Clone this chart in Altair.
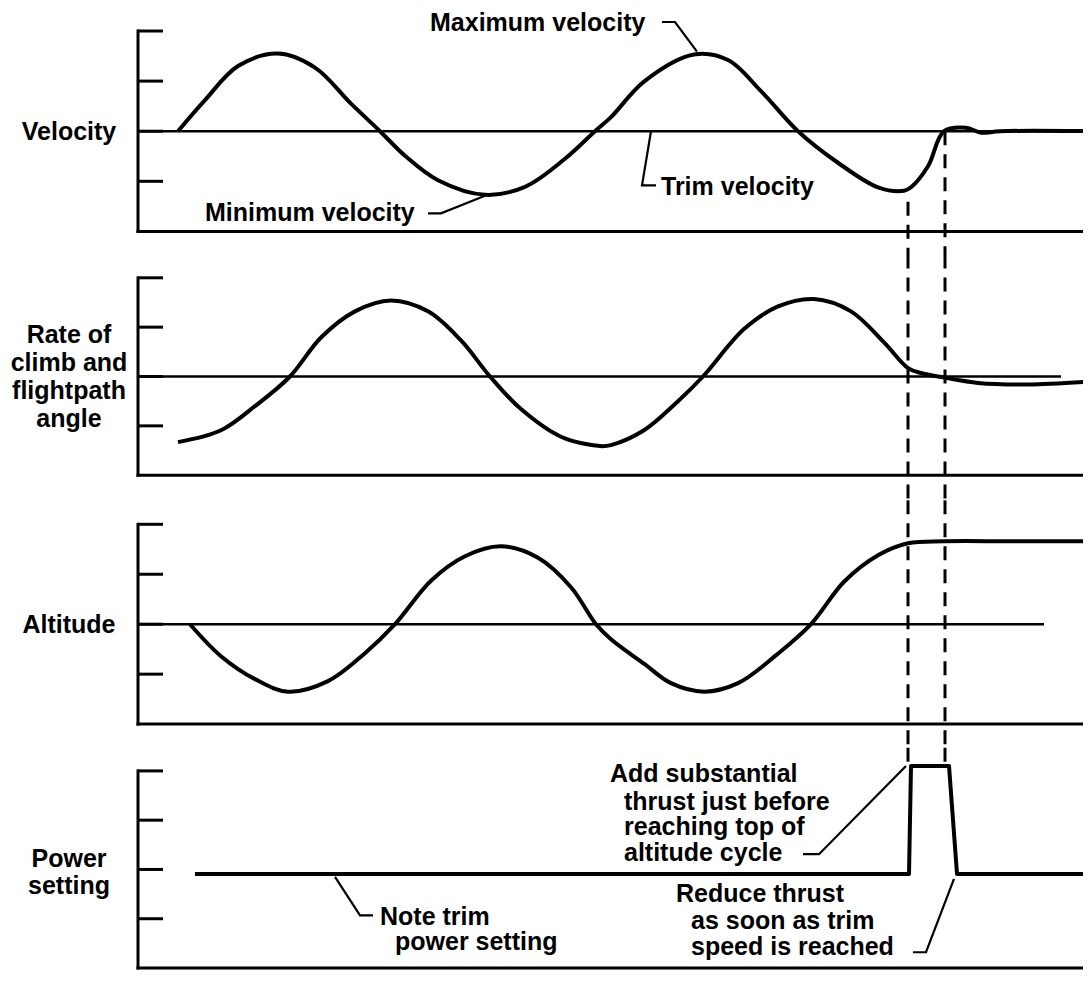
import altair as alt
import pandas as pd

# ---------------- data (time in arbitrary units, values in panel units) -------------
T_END = 95.3          # right end of the traces
X_MAX = 94.5          # visible end of the time axis
TICKS = [2, 1, 0, -1]
TICK_LEN = 2.5

vel_t = [4.0, 6.7, 10.0, 14.0, 17.7, 21.3, 24.2, 26.7, 30.0, 34.7, 38.7, 42.7, 45.7,
         47.3, 50.6, 55.6, 59.0, 62.3, 66.0, 70.0, 74.0, 76.6, 77.3, 79.0, 80.6,
         82.8, 84.3, 86.2, 95.3]
vel_v = [0, 0.62, 1.30, 1.55, 1.27, 0.55, 0, -0.49, -0.98, -1.27, -1.11, -0.55, 0,
         0.28, 0.99, 1.53, 1.42, 0.80, 0, -0.63, -1.12, -1.19, -1.12, -0.70, 0,
         0.07, -0.03, 0, 0]

roc_t = [4.0, 8.3, 11.7, 15.2, 18.3, 21.7, 25.3, 29.0, 32.3, 35.2, 38.3, 42.3, 46.2,
         47.3, 50.6, 54.0, 56.5, 60.6, 64.0, 67.6, 71.3, 74.6, 77.0, 78.3, 80.6,
         84.0, 89.0, 95.3]
roc_v = [-1.33, -1.09, -0.60, 0, 0.79, 1.32, 1.54, 1.32, 0.73, 0, -0.66, -1.22, -1.41,
         -1.39, -1.09, -0.50, 0, 0.96, 1.42, 1.57, 1.32, 0.69, 0.17, 0.07, -0.02,
         -0.13, -0.16, -0.10]

alt_t = [5.2, 8.3, 11.7, 15.0, 19.0, 22.7, 25.7, 29.3, 32.7, 36.3, 40.0, 43.3, 45.8,
         47.3, 50.6, 53.3, 56.6, 60.0, 64.0, 67.3, 70.6, 74.0, 77.0, 80.6, 87.3, 95.3]
alt_v = [0, -0.64, -1.10, -1.35, -1.14, -0.58, 0, 0.87, 1.36, 1.56, 1.33, 0.74, 0,
         -0.30, -0.79, -1.18, -1.35, -1.18, -0.59, 0, 0.85, 1.38, 1.62, 1.66, 1.66, 1.66]

pwr_t = [5.7, 77.1, 77.3, 81.1, 81.9, 95.3]
pwr_v = [-0.09, -0.09, 2.1, 2.1, -0.09, -0.09]

# instants marked by the dashed lines
mark_t = [77.0, 80.7]

# axis labels (text lines, baseline value in panel units)
vel_label = (["Velocity"], [-0.17])
roc_label = (["Rate of", "climb and", "flightpath", "angle"], [0.68, 0.115, -0.45, -1.02])
alt_label = (["Altitude"], [-0.18])
pwr_label = (["Power", "setting"], [0.04, -0.49])

# annotations: text, t, v
vel_notes = (["Maximum velocity", "Minimum velocity", "Trim velocity"],
             [29.2, 6.7, 52.3], [2.0, -1.79, -1.28])
pwr_notes = (["Add substantial", "thrust just before", "reaching top of", "altitude cycle",
              "Reduce thrust", "as soon as trim", "speed is reached",
              "Note trim", "power setting"],
             [47.2, 48.6, 48.6, 48.6, 53.8, 55.3, 55.3, 24.2, 25.7],
             [1.77, 1.21, 0.69, 0.17, -0.66, -1.20, -1.73, -1.12, -1.64])

# leader lines
vel_leaders = {
    "max": ([52.4, 53.7, 55.9], [2.18, 2.18, 1.59]),
    "min": ([29.0, 30.3, 34.7], [-1.64, -1.64, -1.29]),
    "trim": ([51.3, 50.4, 51.8], [0, -1.08, -1.08]),
}
pwr_leaders = {
    "add": ([66.5, 68.1, 76.8], [0.31, 0.31, 2.1]),
    "reduce": ([77.5, 78.8, 81.6], [-1.68, -1.68, -0.19]),
    "note": ([19.7, 22.2, 23.5], [-0.15, -0.93, -0.93]),
}

# dashed segments per panel: (top value, bottom value) for each instant
vel_dash = ([-1.41, 0], [-2.47, -2.47])
roc_dash = ([2.47, 2.47], [-2.47, -2.47])
alt_dash = ([2.48, 2.48], [-2.47, -2.47])
pwr_dash = ([2.47, 2.47], [2.1, 2.1])

# ---------------- chart construction ---------------------------------------------
FONT = "Liberation Sans"
FS = 25
LABEL_T = -6.9

PLOT_W = 945
PLOT_H = 937
# vertical extent of each panel (top tick .. bottom axis), as a share of the plot height
SHARE = PLOT_H / 954.0
PANEL_PX = [(204.0, 0.0), (452.3, 251.3), (705.7, 502.3), (954.0, 753.3)]
PANEL_RANGES = [[round(a * SHARE, 1), round(b * SHARE, 1)] for a, b in PANEL_PX]

XS = alt.Scale(domain=[0, X_MAX], nice=False, zero=False)


def X(f="t"):
    return alt.X(f"{f}:Q", scale=XS, axis=None)


def Y(rng, f="v"):
    return alt.Y(f"{f}:Q", scale=alt.Scale(domain=[-2, 2], range=rng, nice=False, zero=False),
                 axis=None)


def panel(rng, ct, cv, interp, trim_end, label, notes, leaders, dash):
    L = []
    frame = pd.DataFrame({"t": [0.0], "t2": [X_MAX], "v": [-2.0], "v2": [2.0]})
    L.append(alt.Chart(frame).mark_rule(strokeWidth=3, color="black", strokeCap="square")
             .encode(x=X(), y=Y(rng), y2="v2:Q"))
    L.append(alt.Chart(frame).mark_rule(strokeWidth=3, color="black", strokeCap="square")
             .encode(x=X(), x2="t2:Q", y=Y(rng)))
    ticks = pd.DataFrame({"t": [0.0] * len(TICKS), "t2": [TICK_LEN] * len(TICKS), "v": TICKS})
    L.append(alt.Chart(ticks).mark_rule(strokeWidth=3, color="black")
             .encode(x=X(), x2="t2:Q", y=Y(rng)))
    if trim_end is not None:
        trim = pd.DataFrame({"t": [0.0], "t2": [trim_end], "v": [0.0]})
        L.append(alt.Chart(trim).mark_rule(strokeWidth=2.6, color="black")
                 .encode(x=X(), x2="t2:Q", y=Y(rng)))
    dd = pd.DataFrame({"t": mark_t, "v": dash[0], "v2": dash[1]})
    L.append(alt.Chart(dd).mark_rule(strokeWidth=3, color="black", strokeDash=[14, 9])
             .encode(x=X(), y=Y(rng), y2="v2:Q"))
    cdf = pd.DataFrame({"t": ct, "v": cv, "i": list(range(len(ct)))})
    L.append(alt.Chart(cdf).mark_line(interpolate=interp, strokeWidth=4, color="black",
                                      strokeJoin="round")
             .encode(x=X(), y=Y(rng), order="i:Q"))
    if leaders:
        rows = []
        for k, (lt, lv) in leaders.items():
            for i, (a, b) in enumerate(zip(lt, lv)):
                rows.append({"id": k, "t": a, "v": b, "i": i})
        L.append(alt.Chart(pd.DataFrame(rows)).mark_line(strokeWidth=2.2, color="black")
                 .encode(x=X(), y=Y(rng), detail="id:N", order="i:Q"))
    if notes:
        ndf = pd.DataFrame({"text": notes[0], "t": notes[1], "v": notes[2]})
        L.append(alt.Chart(ndf).mark_text(align="left", baseline="alphabetic", font=FONT,
                                          fontWeight="bold", fontSize=FS, color="black")
                 .encode(x=X(), y=Y(rng), text="text:N"))
    ldf = pd.DataFrame({"text": label[0], "t": [LABEL_T] * len(label[0]), "v": label[1]})
    L.append(alt.Chart(ldf).mark_text(align="center", baseline="alphabetic", font=FONT,
                                      fontWeight="bold", fontSize=FS, color="black")
             .encode(x=X(), y=Y(rng), text="text:N"))
    return L


layers = []
layers += panel(PANEL_RANGES[0], vel_t, vel_v, "catmull-rom", T_END, vel_label, vel_notes,
                vel_leaders, vel_dash)
layers += panel(PANEL_RANGES[1], roc_t, roc_v, "catmull-rom", 92.3, roc_label, None,
                None, roc_dash)
layers += panel(PANEL_RANGES[2], alt_t, alt_v, "catmull-rom", 90.6, alt_label, None,
                None, alt_dash)
layers += panel(PANEL_RANGES[3], pwr_t, pwr_v, "linear", None, pwr_label, pwr_notes,
                pwr_leaders, pwr_dash)

chart = (
    alt.layer(*layers)
    .resolve_scale(y="independent")
    .properties(width=PLOT_W, height=PLOT_H,
                padding={"left": 130, "top": 23, "right": 0, "bottom": 2},
                autosize=alt.AutoSizeParams(type="none"),
                background="white")
    .configure_view(stroke=None)
)

chart.save("out.html", embed_options={"renderer": "svg", "actions": False})
